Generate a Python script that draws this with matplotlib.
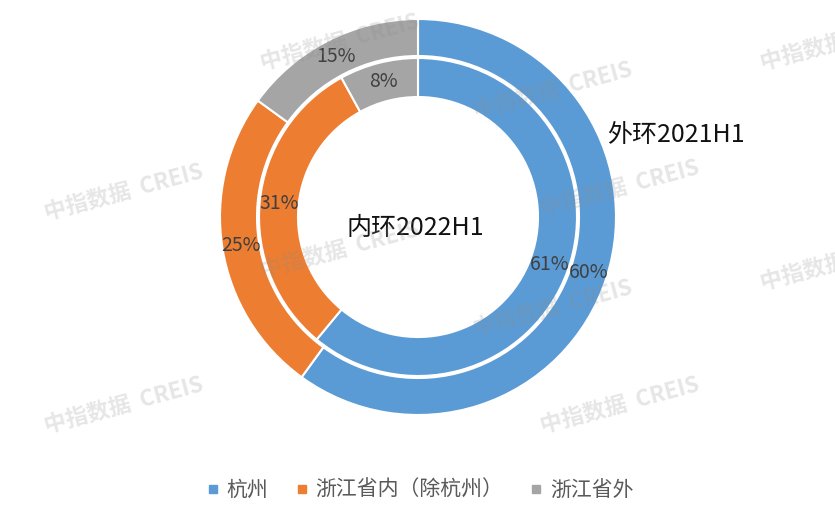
import matplotlib
matplotlib.use("Agg")
import matplotlib.pyplot as plt
from matplotlib.lines import Line2D

plt.rcParams['font.family'] = ['Noto Sans CJK SC', 'DejaVu Sans']

categories = ['杭州', '浙江省内（除杭州）', '浙江省外']
outer_2021h1 = [60, 25, 15]
inner_2022h1 = [61, 31, 8]
colors = ['#5B9BD5', '#ED7D31', '#A5A5A5']
outer_name = '外环2021H1'
inner_name = '内环2022H1'

W, H = 835, 523
fig = plt.figure(figsize=(W / 100, H / 100), dpi=100)
ax = fig.add_axes([0, 0, 1, 1])

cx, cy = 418, H - 217
pct = lambda p: f'{p:.0f}%'
txt = dict(color='#404040', fontsize=14)

# outer ring
ax.pie(outer_2021h1, colors=colors, center=(cx, cy), radius=198,
       startangle=90, counterclock=False, autopct=pct, pctdistance=0.907,
       wedgeprops=dict(width=37, edgecolor='white', linewidth=1.5),
       textprops=txt, frame=True)
# inner ring
ax.pie(inner_2022h1, colors=colors, center=(cx, cy), radius=159,
       startangle=90, counterclock=False, autopct=pct, pctdistance=0.877,
       wedgeprops=dict(width=39, edgecolor='white', linewidth=1.5),
       textprops=txt, frame=True)
ax.set_xlim(0, W)
ax.set_ylim(0, H)
ax.set_aspect('equal')
ax.axis('off')

ax.text(415, H - 228, inner_name, ha='center', va='center', fontsize=18, color='#111111')
ax.text(676, H - 135, outer_name, ha='center', va='center', fontsize=18, color='#111111')

# watermarks
marks = [(124, 192), (620, 188), (553, 90), (124, 405), (620, 405), (553, 308),
         (340, 250), (340, 42), (840, 42), (840, 262)]
for x, y in marks:
    ax.text(x, H - y, '中指数据  CREIS', ha='center', va='center', fontsize=16,
            fontweight='bold', rotation=15, color='#8c8c8c', alpha=0.22,
            zorder=10, clip_on=True)

handles = [Line2D([], [], marker='s', linestyle='none', markersize=6,
                  markerfacecolor=c, markeredgecolor=c) for c in colors]
fig.legend(handles, categories, loc='center', bbox_to_anchor=(420 / W, 1 - 490 / H),
           ncol=3, frameon=False, fontsize=15, handlelength=0.6, handletextpad=0.35,
           columnspacing=1.3, labelcolor='#595959')

fig.savefig('out.png', dpi=100)
